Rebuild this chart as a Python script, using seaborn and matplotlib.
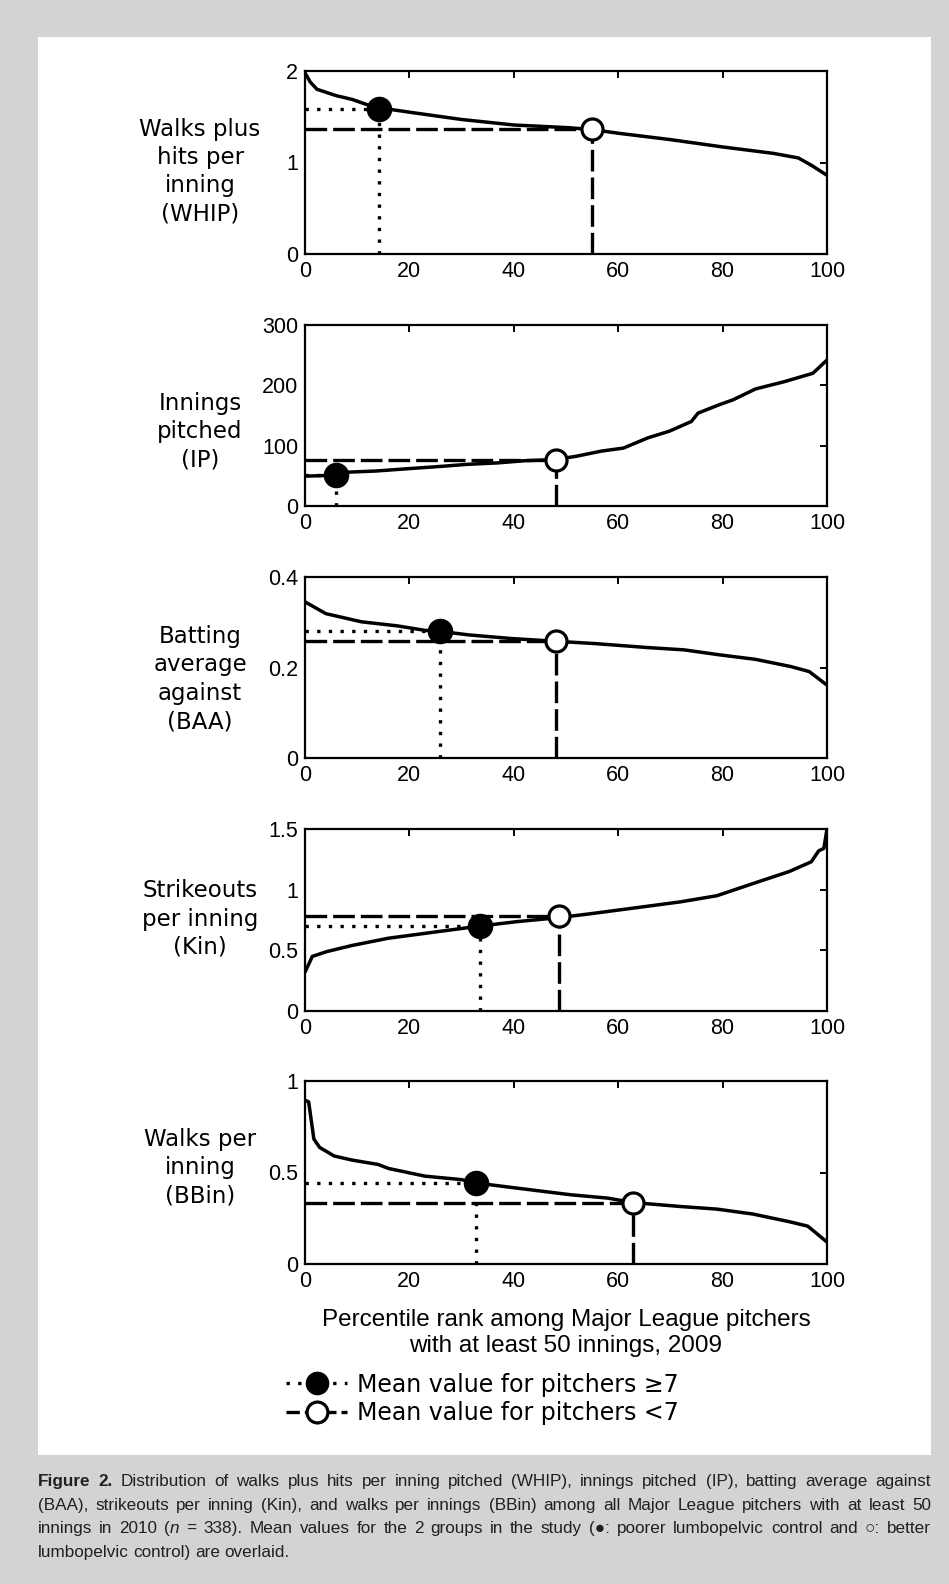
import matplotlib
matplotlib.use("Agg")
import matplotlib.pyplot as plt
import seaborn as sns
from matplotlib.lines import Line2D
from matplotlib.patches import Rectangle
from matplotlib.ticker import FuncFormatter

# ---- data (percentile rank -> value) ----
whip_pct = [0, 1, 2.3, 6, 9, 12, 14, 20, 30, 40, 50.6, 55, 60, 70, 80, 89.7, 94.5, 97, 100]
whip = [1.98, 1.88, 1.80, 1.73, 1.69, 1.63, 1.60, 1.55, 1.47, 1.41, 1.38, 1.36, 1.32, 1.25, 1.17, 1.10, 1.05, 0.97, 0.86]

ip_pct = [0, 6, 8, 13.6, 20, 26.6, 31, 37, 42, 48, 52, 56.8, 61, 65.7, 69.8, 74, 75.3, 79.4, 82, 86.3, 91.8, 97.3, 100]
ip = [49.5, 51, 56, 58, 62, 66, 69, 71.5, 75, 77, 82.5, 91, 96, 113, 124, 140, 154, 168, 176, 194, 206, 220, 242]

baa_pct = [0, 4, 10.8, 17.7, 23, 25.8, 31.4, 39.6, 48, 55.4, 65.7, 72.6, 79.4, 86.3, 93.1, 96.6, 100]
baa = [0.345, 0.319, 0.301, 0.292, 0.282, 0.280, 0.272, 0.264, 0.258, 0.253, 0.244, 0.239, 0.228, 0.218, 0.202, 0.191, 0.161]

kin_pct = [0, 1.4, 4.2, 9, 16, 23, 30, 33.5, 40.5, 48.7, 54.4, 65, 72, 78.9, 85.8, 92.8, 97, 98.4, 99.4, 100]
kin = [0.32, 0.45, 0.49, 0.54, 0.60, 0.64, 0.68, 0.70, 0.736, 0.77, 0.80, 0.86, 0.90, 0.95, 1.05, 1.15, 1.23, 1.32, 1.34, 1.5]

bb_pct = [0, 0.7, 1.7, 2.8, 5.6, 9, 14, 16, 23, 30, 32.7, 40.5, 51, 58, 62.8, 72, 78.9, 85.8, 92.8, 96.3, 100]
bb = [0.895, 0.886, 0.683, 0.637, 0.59, 0.568, 0.544, 0.522, 0.48, 0.461, 0.443, 0.415, 0.378, 0.36, 0.336, 0.314, 0.30, 0.273, 0.231, 0.207, 0.12]

# group means (x = percentile, y = value)
poor_x = [14.1, 6.0, 25.8, 33.5, 32.7]
poor_y = [1.59, 52, 0.280, 0.70, 0.443]
better_x = [54.9, 48.0, 48.0, 48.7, 62.8]
better_y = [1.37, 77, 0.258, 0.78, 0.336]

ylabels = ["Walks plus\nhits per\ninning\n(WHIP)", "Innings\npitched\n(IP)",
           "Batting\naverage\nagainst\n(BAA)", "Strikeouts\nper inning\n(Kin)",
           "Walks per\ninning\n(BBin)"]
ymax = [2, 300, 0.4, 1.5, 1]
yticks = [[0, 1, 2], [0, 100, 200, 300], [0, 0.2, 0.4], [0, 0.5, 1, 1.5], [0, 0.5, 1]]
xticks = [0, 20, 40, 60, 80, 100]

xlabel = "Percentile rank among Major League pitchers\nwith at least 50 innings, 2009"
legend_labels = ["Mean value for pitchers \u22657", "Mean value for pitchers <7"]

caption = [
    [("Figure 2.", "bold"), (" Distribution of walks plus hits per inning pitched (WHIP), innings pitched (IP), batting average against", "normal")],
    [("(BAA), strikeouts per inning (Kin), and walks per innings (BBin) among all Major League pitchers with at least 50", "normal")],
    [("innings in 2010 (", "normal"), ("n", "italic"), (" = 338). Mean values for the 2 groups in the study (\u25cf: poorer lumbopelvic control and \u25cb: better", "normal")],
    [("lumbopelvic control) are overlaid.", "normal")],
]

curves = [(whip_pct, whip), (ip_pct, ip), (baa_pct, baa), (kin_pct, kin), (bb_pct, bb)]

sns.set_style("white")
plt.rcParams["font.family"] = ["DejaVu Sans"]
plt.rcParams["text.color"] = "black"
plt.rcParams["axes.labelcolor"] = "black"

W, H = 949, 1584
fig = plt.figure(figsize=(W / 100, H / 100), dpi=100, facecolor="#d1d3d4")
fig.patches.append(Rectangle((38 / W, 1 - 1455 / H), 893 / W, 1418 / H,
                             transform=fig.transFigure, facecolor="white",
                             edgecolor="none", zorder=-5))

panel_px = [(71, 254), (325, 506), (577, 758), (829, 1011), (1081, 1264)]
label_y = [0.45, 0.41, 0.436, 0.505, 0.525]
dotted = (0, (1, 2.5))
dashed = (0, (6.5, 1.8))
tickfont = ["Liberation Sans", "DejaVu Sans"]

for i, (top, bot) in enumerate(panel_px):
    ax = fig.add_axes([305 / W, 1 - bot / H, 522 / W, (bot - top) / H])
    ax.set_zorder(1)
    px, py = curves[i]

    # guide lines for group means
    ax.plot([0, poor_x[i]], [poor_y[i], poor_y[i]], color="black", lw=2.4, ls=dotted, zorder=2)
    ax.plot([poor_x[i], poor_x[i]], [0, poor_y[i]], color="black", lw=2.4, ls=dotted, zorder=2)
    ax.plot([0, better_x[i]], [better_y[i], better_y[i]], color="black", lw=2.4, ls=dashed, zorder=2)
    ax.plot([better_x[i], better_x[i]], [0, better_y[i]], color="black", lw=2.4, ls=dashed, zorder=2)

    sns.lineplot(x=px, y=py, ax=ax, color="black", lw=2.5, estimator=None, zorder=3)
    sns.scatterplot(x=[poor_x[i]], y=[poor_y[i]], ax=ax, s=290, color="black",
                    edgecolor="black", zorder=5)
    sns.scatterplot(x=[better_x[i]], y=[better_y[i]], ax=ax, s=230, facecolor="white",
                    edgecolor="black", linewidth=2.3, zorder=5)

    ax.set_xlim(0, 100)
    ax.set_ylim(0, ymax[i])
    ax.set_xticks(xticks)
    ax.set_yticks(yticks[i])
    ax.yaxis.set_major_formatter(FuncFormatter(lambda v, p: "%g" % v))
    ax.tick_params(direction="in", top=True, right=True, length=5, width=1.4,
                   labelsize=15.5, pad=5, colors="black")
    for lab in ax.get_xticklabels() + ax.get_yticklabels():
        lab.set_family(tickfont)
    for s in ax.spines.values():
        s.set_linewidth(1.6)
        s.set_color("black")
    ax.set_xlabel("")
    ax.set_ylabel(ylabels[i], rotation=0, fontsize=16.5, ha="center", va="center",
                  linespacing=1.3, color="black")
    ax.yaxis.set_label_coords(-0.201, label_y[i])

fig.text(566 / W, 1 - 1333 / H, xlabel, ha="center", va="center", fontsize=17.5,
         family=tickfont, linespacing=1.2, color="black")

handles = [
    Line2D([], [], color="black", lw=2.4, ls=dotted, marker="o", ms=16, mfc="black", mec="black"),
    Line2D([], [], color="black", lw=2.4, ls=(0, (4, 1.5)), marker="o", ms=15, mfc="white", mec="black", mew=2.3),
]
leg = fig.legend(handles, legend_labels, loc="center left", bbox_to_anchor=(286 / W, 1 - 1399 / H),
                 frameon=False, fontsize=17, handlelength=2.6, handletextpad=0.4,
                 labelspacing=0.2, borderpad=0, borderaxespad=0, numpoints=1)
for t in leg.get_texts():
    t.set_color("black")

# caption, justified like the journal layout
renderer = fig.canvas.get_renderer()
cap_x0, cap_x1 = 38, 931
cap_base = [1486, 1510, 1533, 1557]
for li, segs in enumerate(caption):
    words = []
    for text, style in segs:
        parts = text.split(" ")
        for j, p in enumerate(parts):
            if j == 0 and words and not text.startswith(" "):
                if p:
                    words[-1].append((p, style))
            elif p:
                words.append([(p, style)])
    objs = []
    for w in words:
        pieces = []
        for p, style in w:
            t = fig.text(0, 1 - cap_base[li] / H, p, fontsize=12.3, color="#231f20",
                         family=["Liberation Sans", "DejaVu Sans"], va="baseline",
                         fontweight="bold" if style == "bold" else "normal",
                         fontstyle="italic" if style == "italic" else "normal")
            pieces.append((t, t.get_window_extent(renderer).width))
        objs.append(pieces)
    widths = [sum(pw for _, pw in pieces) for pieces in objs]
    if li < len(caption) - 1:
        gap = (cap_x1 - cap_x0 - sum(widths)) / (len(objs) - 1)
    else:
        gap = 4.5
    x = cap_x0
    for pieces in objs:
        for t, pw in pieces:
            t.set_x(x / W)
            x += pw
        x += gap

fig.savefig("out.png", dpi=100, facecolor=fig.get_facecolor())
